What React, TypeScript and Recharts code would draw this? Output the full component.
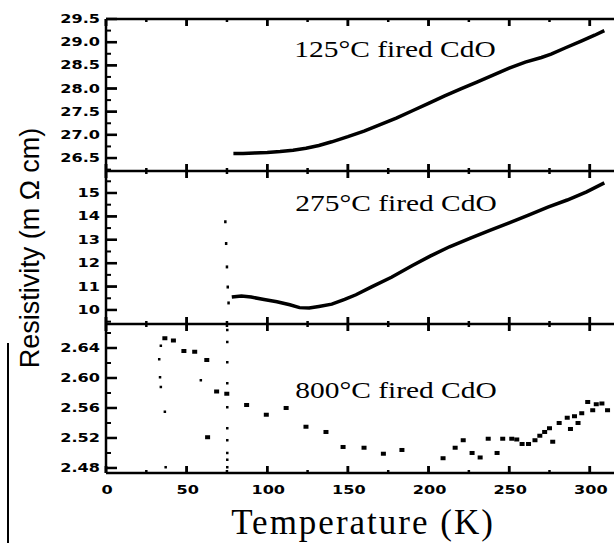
import React from 'react';
import { ComposedChart, Line, Scatter, XAxis, YAxis, ReferenceLine } from 'recharts';

// temperature axis (K)
const tempMajor = [0, 50, 100, 150, 200, 250, 300];
const tempMinor = [25, 75, 125, 175, 225, 275];

// y ticks per panel
const topMajor = [26.5, 27, 27.5, 28, 28.5, 29, 29.5];
const topMinor = [26.25, 26.75, 27.25, 27.75, 28.25, 28.75, 29.25];
const midMajor = [10, 11, 12, 13, 14, 15];
const midMinor = [9.5, 10.5, 11.5, 12.5, 13.5, 14.5, 15.5];
const botMajor = [2.48, 2.52, 2.56, 2.6, 2.64];
const botMinor = [2.5, 2.54, 2.58, 2.62, 2.66];

// 125°C fired CdO
const topT = [79, 85, 92, 100, 108, 116, 124, 132, 140, 150, 160, 170, 180, 190, 200, 210, 220, 230, 240, 250, 260, 270, 276, 285, 295, 303, 309];
const topR = [26.6, 26.6, 26.61, 26.62, 26.64, 26.67, 26.71, 26.77, 26.85, 26.96, 27.08, 27.22, 27.36, 27.52, 27.68, 27.84, 27.99, 28.14, 28.29, 28.44, 28.57, 28.67, 28.74, 28.88, 29.03, 29.15, 29.25];

// 275°C fired CdO
const midT = [78, 84, 90, 98, 106, 114, 120, 126, 132, 140, 148, 155, 165, 177, 190, 201, 213, 226, 238, 250, 262, 274, 286, 298, 309];
const midR = [10.55, 10.6, 10.55, 10.45, 10.35, 10.22, 10.1, 10.08, 10.15, 10.25, 10.45, 10.65, 11.0, 11.4, 11.9, 12.3, 12.7, 13.07, 13.4, 13.72, 14.05, 14.4, 14.7, 15.05, 15.43];
const midDropT = [74, 74.5, 75, 75.5, 76];
const midDropR = [13.77, 12.84, 11.84, 10.98, 10.3];

// 800°C fired CdO
const botT = [36.5, 41.8, 48.3, 55, 62.5, 63, 68.6, 74.9, 87.2, 99.4, 111.7, 124, 136.4, 147, 160, 172, 183.5, 209, 216.5, 221.5, 227, 232, 237, 242.5, 246, 251.6, 254.7, 258, 262, 266, 269, 272, 275, 277, 281, 286, 288, 290.5, 292.7, 295, 298.7, 301.8, 304, 307.5, 311];
const botR = [2.653, 2.65, 2.636, 2.635, 2.624, 2.521, 2.582, 2.579, 2.564, 2.551, 2.56, 2.535, 2.528, 2.508, 2.507, 2.499, 2.504, 2.493, 2.507, 2.517, 2.5, 2.494, 2.519, 2.5, 2.519, 2.519, 2.518, 2.512, 2.512, 2.517, 2.523, 2.528, 2.533, 2.515, 2.54, 2.547, 2.532, 2.549, 2.54, 2.553, 2.568, 2.557, 2.565, 2.566, 2.557];
const botSmallT = [34, 33, 33.5, 34, 36.5, 37, 58.8, 75.2, 75.2, 75.2, 75.2, 75.2, 75.2, 75.2, 75.2, 75.2, 75.2, 75.2];
const botSmallR = [2.643, 2.625, 2.601, 2.588, 2.555, 2.481, 2.597, 2.664, 2.648, 2.621, 2.593, 2.579, 2.561, 2.533, 2.517, 2.5, 2.491, 2.481];

const zip = (t: number[], r: number[]) => t.map((v, i) => ({ t: v, r: r[i] }));

const W = 614;
const PLOT_W = 508;
const X_DOMAIN: [number, number] = [0, 315];
const tickFont = {
  fontFamily: '"DejaVu Sans", sans-serif',
  fontWeight: 700,
  fontSize: 11.5,
};
const ink = { stroke: '#000', strokeWidth: 2.5 };

const tempLabel = (props: any) => (
  <text
    transform={`translate(${Number(props.x) + 1},${Number(props.y) + 21}) scale(1.4,1)`}
    textAnchor="middle"
    fill="#000"
    style={tickFont}
  >
    {props.payload.value}
  </text>
);

const resLabel = (fmt: (v: number) => string) => (props: any) => (
  <text
    transform={`translate(${Number(props.x) - 6},${Number(props.y) + 4}) scale(1.4,1)`}
    textAnchor="end"
    fill="#000"
    style={tickFont}
  >
    {fmt(props.payload.value)}
  </text>
);

// inward tick marks: each mark is a point placed at the middle of the mark, drawn as a bar
const bar = (w: number, h: number) => (p: any) => (
  <rect x={p.cx - w / 2} y={p.cy - h / 2} width={w} height={h} fill="#000" />
);

function tickMarks(domain: [number, number], plotH: number, major: number[], minor: number[]) {
  const [lo, hi] = domain;
  const ux = (X_DOMAIN[1] - X_DOMAIN[0]) / PLOT_W;
  const uy = (hi - lo) / plotH;
  return {
    yMajor: major.map((r) => ({ t: 5.5 * ux, r })),
    yMinor: minor.map((r) => ({ t: 2.5 * ux, r })),
    xMajor: tempMajor.flatMap((t) => [{ t, r: lo + 3.5 * uy }, { t, r: hi - 3.5 * uy }]),
    xMinor: tempMinor.flatMap((t) => [{ t, r: lo + 1.5 * uy }, { t, r: hi - 1.5 * uy }]),
    segs: [
      ...major.map((r) => [{ x: 0, y: r }, { x: 11 * ux, y: r }]),
      ...tempMajor.flatMap((t) => [
        [{ x: t, y: lo }, { x: t, y: lo + 7 * uy }],
        [{ x: t, y: hi }, { x: t, y: hi - 7 * uy }],
      ]),
    ] as [{ x: number; y: number }, { x: number; y: number }][],
  };
}

function Panel(props: {
  top: number;
  height: number;
  plotH: number;
  margin: { top: number; right: number; bottom: number; left: number };
  domain: [number, number];
  major: number[];
  minor: number[];
  fmt: (v: number) => string;
  first?: boolean;
  last?: boolean;
  children: React.ReactNode;
}) {
  const m = tickMarks(props.domain, props.plotH, props.major, props.minor);
  return (
    <div style={{ position: 'absolute', left: 0, top: props.top }}>
      <ComposedChart width={W} height={props.height} margin={props.margin}>
        <XAxis xAxisId="b" dataKey="t" type="number" domain={X_DOMAIN} ticks={tempMajor} interval={0}
          height={1} tickSize={0} tickMargin={0} tickLine={false} axisLine={ink}
          tick={props.last ? tempLabel : false} />
        {props.first && (
          <XAxis xAxisId="t" orientation="top" dataKey="t" type="number" domain={X_DOMAIN} ticks={tempMajor}
            height={1} tickSize={0} tickLine={false} axisLine={ink} tick={false} />
        )}
        <YAxis dataKey="r" type="number" domain={props.domain} ticks={props.major} interval={0}
          width={106} tickSize={0} tickMargin={0} tickLine={false} axisLine={ink} tick={resLabel(props.fmt)} />
        {m.segs.map((s, i) => (
          <ReferenceLine key={i} xAxisId="b" segment={s} stroke="#000" strokeWidth={2.5} ifOverflow="visible" />
        ))}
        <Scatter xAxisId="b" data={m.yMajor} dataKey="r" shape={bar(11, 2)} isAnimationActive={false} />
        <Scatter xAxisId="b" data={m.yMinor} dataKey="r" shape={bar(5, 2)} isAnimationActive={false} />
        <Scatter xAxisId="b" data={m.xMajor} dataKey="r" shape={bar(2.5, 7)} isAnimationActive={false} />
        <Scatter xAxisId="b" data={m.xMinor} dataKey="r" shape={bar(2.5, 3)} isAnimationActive={false} />
        {props.children}
      </ComposedChart>
    </div>
  );
}

const label: React.CSSProperties = {
  position: 'absolute',
  transform: 'translate(-50%, -50%)',
  whiteSpace: 'nowrap',
  color: '#000',
  lineHeight: 1,
};

const title: React.CSSProperties = {
  ...label,
  transform: 'translate(-50%, -50%) scaleX(1.28)',
  fontFamily: '"Liberation Serif", serif',
  fontSize: 23,
};

export default function App() {
  return (
    <div style={{ position: 'absolute', left: 0, top: 0, width: W, height: 543, background: '#fff', overflow: 'hidden' }}>
      <Panel top={0} height={185} plotH={152} margin={{ top: 18, right: 0, bottom: 13, left: 0 }}
        domain={[26.22, 29.5]} major={topMajor} minor={topMinor} fmt={(v) => v.toFixed(1)} first>
        <Line xAxisId="b" data={zip(topT, topR)} dataKey="r" type="linear" stroke="#000" strokeWidth={3.5} dot={false} isAnimationActive={false} />
      </Panel>
      <Panel top={157} height={181} plotH={153} margin={{ top: 14, right: 0, bottom: 13, left: 0 }}
        domain={[9.4, 15.94]} major={midMajor} minor={midMinor} fmt={(v) => String(v)}>
        <Line xAxisId="b" data={zip(midT, midR)} dataKey="r" type="linear" stroke="#000" strokeWidth={3.5} dot={false} isAnimationActive={false} />
        <Scatter xAxisId="b" data={zip(midDropT, midDropR)} dataKey="r" shape={bar(2.5, 3)} isAnimationActive={false} />
      </Panel>
      <Panel top={310} height={233} plotH={149} margin={{ top: 14, right: 0, bottom: 69, left: 0 }}
        domain={[2.4733, 2.672]} major={botMajor} minor={botMinor} fmt={(v) => v.toFixed(2)} last>
        <Scatter xAxisId="b" data={zip(botT, botR)} dataKey="r" shape={bar(5, 4)} isAnimationActive={false} />
        <Scatter xAxisId="b" data={zip(botSmallT, botSmallR)} dataKey="r" shape={bar(2.5, 2.5)} isAnimationActive={false} />
      </Panel>

      <div style={{ ...title, left: 395, top: 49 }}>125°C fired CdO</div>
      <div style={{ ...title, left: 396, top: 203 }}>275°C fired CdO</div>
      <div style={{ ...title, left: 396, top: 390 }}>800°C fired CdO</div>
      <div style={{ ...label, left: 363, top: 522, fontFamily: '"Liberation Serif", serif', fontSize: 35, letterSpacing: 2 }}>
        Temperature (K)
      </div>
      <div
        style={{
          ...label,
          left: 30,
          top: 248,
          transform: 'translate(-50%, -50%) rotate(-90deg)',
          fontFamily: '"Liberation Sans", Arial, sans-serif',
          fontSize: 27,
        }}
      >
        Resistivity (m Ω cm)
      </div>
      <div style={{ position: 'absolute', left: 7, top: 343, width: 2, height: 200, background: '#000' }} />
    </div>
  );
}
